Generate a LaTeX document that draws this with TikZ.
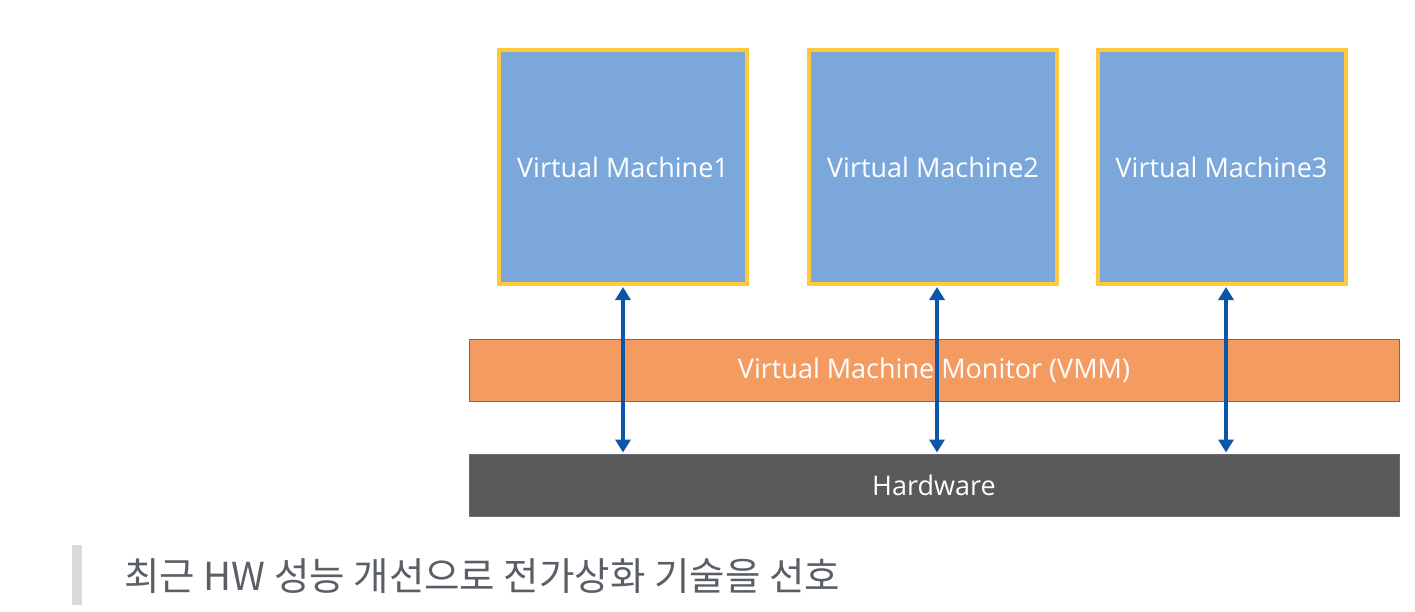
\documentclass[tikz,border=0pt]{standalone}
\usepackage{fontspec}
\setmainfont{Open Sans}
\newfontfamily\krfont{Noto Sans CJK KR}
\usetikzlibrary{arrows.meta}
\definecolor{vmblue}{HTML}{7BA7DB}
\definecolor{vmgold}{HTML}{FFC83D}
\definecolor{vmmorange}{HTML}{F49B62}
\definecolor{hwgray}{HTML}{595959}
\definecolor{arrowblue}{HTML}{0B56A8}
\definecolor{edgegray}{HTML}{6B6B7A}
\definecolor{txtgray}{HTML}{5A5F66}
\definecolor{barfill}{HTML}{D9D9DE}
\tikzset{
  x=1pt, y=-1pt,
  vmbox/.style={draw=vmgold, line width=4pt, fill=vmblue, minimum width=248pt, minimum height=234pt, inner sep=0pt, font=\fontsize{27}{32}\selectfont, text=white},
  layer/.style={draw=edgegray, line width=1pt, minimum width=930pt, minimum height=62pt, inner sep=0pt, font=\fontsize{27}{32}\selectfont, text=white},
  link/.style={draw=arrowblue, line width=3.5pt, {Triangle[length=13pt,width=15pt]}-{Triangle[length=13pt,width=15pt]}, shorten <=1pt, shorten >=1pt}
}
\begin{document}
\begin{tikzpicture}
\useasboundingbox[fill=white] (0,0) rectangle (1415,611);
\node[vmbox] (vm1) at (623,167) {Virtual Machine1};
\node[vmbox] (vm2) at (933,167) {Virtual Machine2};
\node[vmbox] (vm3) at (1221.5,167) {Virtual Machine3};
\node[layer, fill=vmmorange] (vmm) at (934,370) {Virtual Machine Monitor (VMM)};
\node[layer, fill=hwgray] (hw) at (934,485) {Hardware};
\coordinate (a1) at (623,485);
\draw[link] (vm1.south -| a1) -- (hw.north -| a1);
\coordinate (a2) at (937,485);
\draw[link] (vm2.south -| a2) -- (hw.north -| a2);
\coordinate (a3) at (1226,485);
\draw[link] (vm3.south -| a3) -- (hw.north -| a3);
\node[fill=barfill, minimum width=10pt, minimum height=60pt, inner sep=0pt] (bar) at (77,575) {};
\node[anchor=west, inner sep=0pt, text=txtgray, font=\krfont\fontsize{38.5}{44}\selectfont] (note) at (124,576) {최근 HW 성능 개선으로 전가상화 기술을 선호};
\end{tikzpicture}
\end{document}
